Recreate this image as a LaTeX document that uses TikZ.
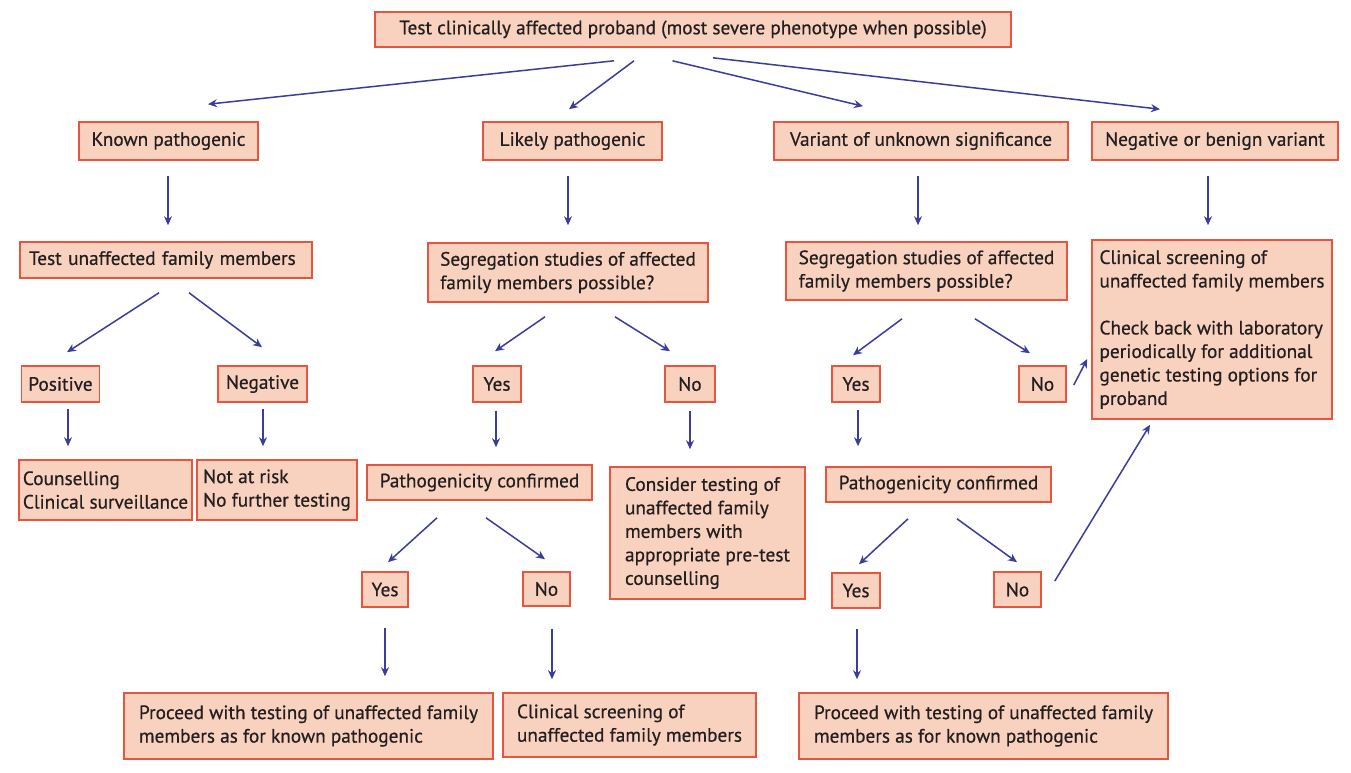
\documentclass[tikz,border=0pt]{standalone}
\usepackage{fontspec}
\setmainfont{PT Sans}
\newfontfamily\boxfont{PT Sans}[FakeBold=0.6]
\usetikzlibrary{arrows.meta,calc,positioning}
\definecolor{boxfill}{HTML}{F9D2BF}
\definecolor{boxline}{HTML}{E8553F}
\definecolor{arrowblue}{HTML}{3C3C9A}
\definecolor{ink}{HTML}{231F20}
\tikzset{
  box/.style={draw=boxline,fill=boxfill,line width=1.6pt,inner xsep=2pt,inner ysep=0pt,
    text=ink,font=\boxfont\fontsize{19.3}{23.5}\selectfont,align=left},
  arr/.style={draw=arrowblue,line width=1.5pt,-{Stealth[length=9pt,width=8pt]}}
}
\begin{document}
\begin{tikzpicture}[x=1pt,y=1pt]
\useasboundingbox[fill=white] (0,0) rectangle (1351,-772);
% top row
\node[box,minimum width=636pt,minimum height=35pt] (proband) at (693,-29.5) {Test clinically affected proband (most severe phenotype when possible)};
\node[box,minimum width=179pt,minimum height=38pt] (known) at (168.5,-141) {Known pathogenic};
\node[box,minimum width=179pt,minimum height=38pt] (likely) at (572.5,-141) {Likely pathogenic};
\node[box,minimum width=294pt,minimum height=38pt] (vus) at (921,-141) {Variant of unknown significance};
\node[box,minimum width=246pt,minimum height=38pt] (benign) at (1215,-141) {Negative or benign variant};
% second row
\node[box,minimum height=36pt,inner xsep=9pt,text width=274pt] (testfam) at (166,-260) {Test unaffected family members};
\node[box,minimum width=280pt,minimum height=59pt] (seglp) at (568,-272.5) {Segregation studies of affected\\family members possible?};
\node[box,minimum width=281pt,minimum height=58pt] (segvus) at (926.5,-271) {Segregation studies of affected\\family members possible?};
\node[box,minimum width=240pt,minimum height=179pt] (screen) at (1212,-329.5) {Clinical screening of\\unaffected family members\\[23.5pt]Check back with laboratory\\periodically for additional\\genetic testing options for\\proband};
% known pathogenic branch
\node[box,minimum width=78pt,minimum height=36pt,align=center] (pos) at (60.5,-384) {Positive};
\node[box,minimum width=89pt,minimum height=36pt,align=center] (neg) at (262.5,-384) {Negative};
\node[box,minimum width=173pt,minimum height=60pt] (couns) at (105.5,-490) {Counselling\\Clinical surveillance};
\node[box,minimum width=160pt,minimum height=60pt] (norisk) at (277,-490) {Not at risk\\No further testing};
% likely pathogenic branch
\node[box,minimum width=48pt,minimum height=36pt,align=center] (lpyes) at (497,-384) {Yes};
\node[box,minimum width=50pt,minimum height=36pt,align=center] (lpno) at (690,-384) {No};
\node[box,minimum width=225pt,minimum height=35pt,align=center] (lpconf) at (479.5,-482.5) {Pathogenicity confirmed};
\node[box,minimum width=195pt,minimum height=132pt] (consider) at (707.5,-533) {Consider testing of\\unaffected family\\members with\\appropriate pre-test\\counselling};
\node[box,minimum width=46pt,minimum height=35pt,align=center] (lpcyes) at (385,-589.5) {Yes};
\node[box,minimum width=47pt,minimum height=34pt,align=center] (lpcno) at (546.5,-589) {No};
\node[box,minimum width=369pt,minimum height=66pt] (lpproceed) at (308.5,-726) {Proceed with testing of unaffected family\\members as for known pathogenic};
\node[box,minimum width=253pt,minimum height=64pt] (lpscreen) at (629.5,-725) {Clinical screening of\\unaffected family members};
% variant of unknown significance branch
\node[box,minimum width=48pt,minimum height=36pt,align=center] (vyes) at (856,-384) {Yes};
\node[box,minimum width=47pt,minimum height=36pt,align=center] (vno) at (1042.5,-384) {No};
\node[box,minimum width=225pt,minimum height=35pt,align=center] (vconf) at (938.5,-484.5) {Pathogenicity confirmed};
\node[box,minimum width=48pt,minimum height=35pt,align=center] (vcyes) at (856,-590.5) {Yes};
\node[box,minimum width=47pt,minimum height=35pt,align=center] (vcno) at (1017.5,-589.5) {No};
\node[box,minimum width=369pt,minimum height=66pt] (vproceed) at (983.5,-726) {Proceed with testing of unaffected family\\members as for known pathogenic};
% arrows from the proband
\draw[arr] ([shift={(-79,-13)}]proband.south) -- ([shift={(39.5,17)}]known.north);
\draw[arr] ([shift={(-59,-13)}]proband.south) -- ([shift={(-3.5,12)}]likely.north);
\draw[arr] ([shift={(-20.5,-13)}]proband.south) -- ([shift={(-58,15)}]vus.north);
\draw[arr] ([shift={(20,-10)}]proband.south) -- ([shift={(-55,12)}]benign.north);
% down arrows
\draw[arr] ([shift={(-0.5,-15)}]known.south) -- ([shift={(2,16)}]testfam.north);
\draw[arr] ([shift={(-4.5,-15)}]likely.south) -- ([shift={(0,17)}]seglp.north);
\draw[arr] ([shift={(-3,-15)}]vus.south) -- ([shift={(-8.5,16)}]segvus.north);
\draw[arr] ([shift={(-7,-15)}]benign.south) -- ([shift={(-4,14)}]screen.north);
% known pathogenic
\draw[arr] ([shift={(-7,-14)}]testfam.south) -- ([shift={(6.5,13)}]pos.north);
\draw[arr] ([shift={(23,-14)}]testfam.south) -- ([shift={(-0.5,18)}]neg.north);
\draw[arr] ([shift={(7.5,-6)}]pos.south) -- ([shift={(-37.5,13)}]couns.north);
\draw[arr] ([shift={(0.5,-6)}]neg.south) -- ([shift={(-14,13)}]norisk.north);
% likely pathogenic
\draw[arr] ([shift={(-23,-14)}]seglp.south) -- ([shift={(-2,14)}]lpyes.north);
\draw[arr] ([shift={(47,-14)}]seglp.south) -- ([shift={(-20,14)}]lpno.north);
\draw[arr] ([shift={(-1,-8)}]lpyes.south) -- ([shift={(16.5,17)}]lpconf.north);
\draw[arr] ([shift={(0,-8)}]lpno.south) -- ([shift={(-17.5,17)}]consider.north);
\draw[arr] ([shift={(-42.5,-17)}]lpconf.south) -- ([shift={(3,9)}]lpcyes.north);
\draw[arr] ([shift={(6.5,-17)}]lpconf.south) -- ([shift={(-1.5,12)}]lpcno.north);
\draw[arr] ([shift={(0,-20)}]lpcyes.south) -- ([shift={(76.5,16)}]lpproceed.north);
\draw[arr] ([shift={(5.5,-22)}]lpcno.south) -- ([shift={(-77.5,13)}]lpscreen.north);
% variant of unknown significance
\draw[arr] ([shift={(-24.5,-18)}]segvus.south) -- ([shift={(-3,10)}]vyes.north);
\draw[arr] ([shift={(48.5,-18)}]segvus.south) -- ([shift={(-12.5,12)}]vno.north);
\draw[arr] ([shift={(7,-1)}]vno.east) -- ([shift={(-4,-29.5)}]screen.west);
\draw[arr] ([shift={(2,-7)}]vyes.south) -- ([shift={(-80.5,20)}]vconf.north);
\draw[arr] ([shift={(-30.5,-16)}]vconf.south) -- ([shift={(3,8)}]vcyes.north);
\draw[arr] ([shift={(18.5,-16)}]vconf.south) -- ([shift={(-0.5,9)}]vcno.north);
\draw[arr] ([shift={(13,8.5)}]vcno.east) -- ([shift={(-62,-5)}]screen.south);
\draw[arr] ([shift={(1,-20)}]vcyes.south) -- ([shift={(-126.5,13)}]vproceed.north);
\end{tikzpicture}
\end{document}
